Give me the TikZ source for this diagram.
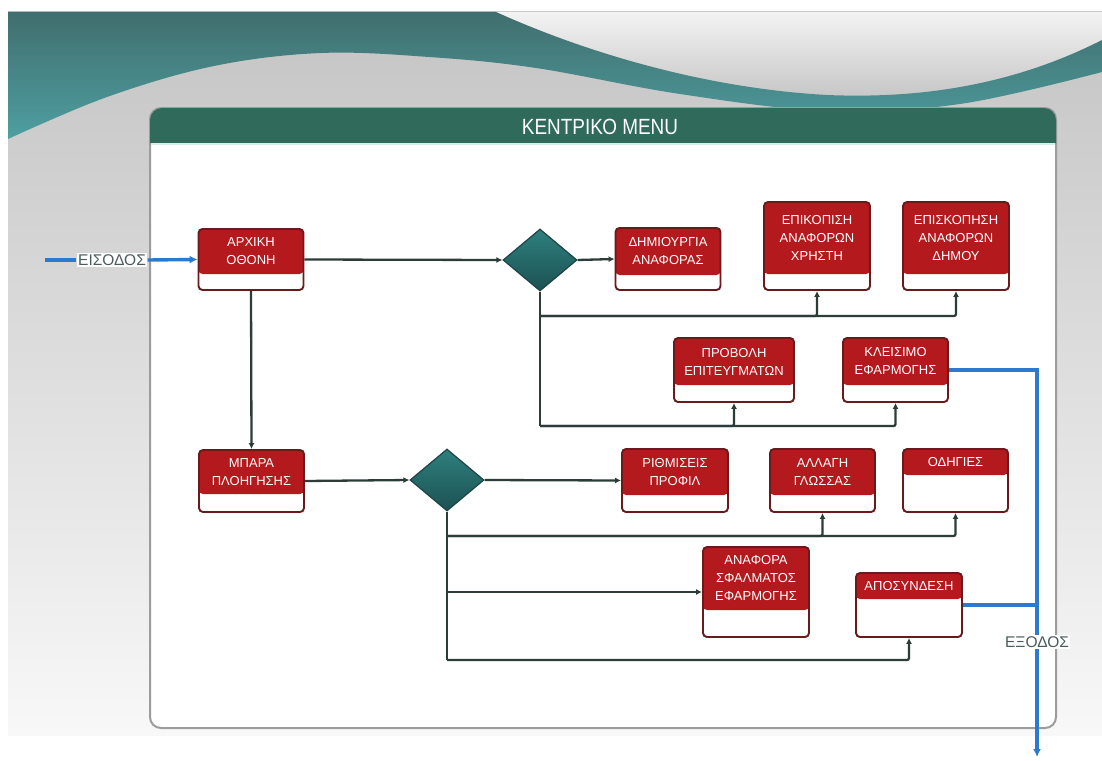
\documentclass[tikz,border=0pt]{standalone}
\usepackage{fontspec}
\setmainfont{Liberation Sans}
\newfontfamily\titlefont[FakeStretch=0.86]{Liberation Sans}
\usetikzlibrary{arrows.meta,shapes.geometric}

\definecolor{cardred}{HTML}{B3191D}
\definecolor{cardline}{HTML}{6A1A1A}
\definecolor{connc}{HTML}{2C3C38}
\definecolor{bluec}{HTML}{2A7BD0}
\definecolor{headc}{HTML}{2F6A5B}
\definecolor{panelline}{HTML}{9C9C9C}
\definecolor{gatetext}{HTML}{4A5B5C}
\definecolor{tealdark}{HTML}{416E6E}
\definecolor{teallight}{HTML}{4E9FA1}
\definecolor{diamtop}{HTML}{2E807E}
\definecolor{diambot}{HTML}{1D5153}
\definecolor{diamline}{HTML}{1E4445}
\definecolor{bgtop}{HTML}{C4C4C4}
\definecolor{bgbot}{HTML}{F8F8F8}
\definecolor{globetop}{HTML}{F3F3F3}
\definecolor{globebot}{HTML}{C6C6C6}

% a menu card: name, centre x, top y, width, height, height of the red title part, title
\newcommand\menucard[7]{%
  \node[card, minimum width=#4pt, minimum height=#5pt,
        path picture={\fill[cardred] ([yshift=2pt]path picture bounding box.north west)
                       rectangle ([yshift=-#6pt]path picture bounding box.north east);}]
        (#1) at (#2,#3+#5/2) {};
  \node[cardtext] (#1-t) at (#2,#3+#6/2) {#7};
}

\begin{document}
\begin{tikzpicture}[x=1pt,y=-1pt,
  card/.style={draw=cardline, line width=1.9pt, fill=white, rounded corners=4pt, inner sep=0pt},
  cardtext/.style={text=white, align=center, inner sep=0pt, font=\fontsize{13}{18}\selectfont},
  decision/.style={diamond, inner sep=0pt, minimum width=74pt, minimum height=62pt,
                   top color=diamtop, bottom color=diambot, draw=diamline, line width=1.2pt},
  conn/.style={draw=connc, line width=2.3pt, rounded corners=2pt},
  flow/.style={conn, -{Latex[length=6pt,width=6pt]}},
  exitline/.style={draw=bluec, line width=3.4pt},
  exitflow/.style={exitline, -{Latex[length=8pt,width=8pt]}},
  gatelabel/.style={fill=white, text=gatetext, inner sep=1.5pt, font=\fontsize{15.5}{18}\selectfont},
  titletext/.style={text=white, font=\titlefont\fontsize{22}{24}\selectfont}]

\useasboundingbox (0,0) rectangle (1102,760);

% backdrop
\fill[white] (0,0) rectangle (1102,760);
\shade[top color=bgtop, bottom color=bgbot] (8,12) rectangle (1102,735);
\shade[top color=globetop, bottom color=globebot]
  (496,12) -- (1102,12) -- (1102,40)
  .. controls (1000,92) and (900,98) .. (827,95)
  .. controls (700,88) and (580,50) .. (496,12) -- cycle;
\shade[top color=tealdark, bottom color=teallight]
  (8,12) -- (496,12)
  .. controls (580,50) and (700,88) .. (827,95)
  .. controls (900,98) and (1000,92) .. (1102,40)
  -- plot[smooth, tension=0.6] coordinates {(1102,72) (960,104) (827,111) (680,94) (536,68) (429,57) (321,53) (214,66) (107,97) (8,139)}
  -- cycle;

% menu panel
\fill[white, draw=panelline, line width=2pt, rounded corners=11pt] (150,108) rectangle (1056,728);
\fill[headc] (150,143) [rounded corners=12pt] -- (150,108) -- (1056,108) [sharp corners] -- (1056,143) -- cycle;
\draw[white!85!teal, line width=1pt] (151,144) -- (1055,144);
\node[titletext] (title) at (600,127) {ΚΕΝΤΡΙΚΟ MENU};

% decisions
\node[decision] (d1) at (540,260) {};
\node[decision] (d2) at (447,480) {};

% cards
\menucard{home}{251}{229}{105}{61}{45}{ΑΡΧΙΚΗ\\ΟΘΟΝΗ}
\menucard{nav}{251.5}{450}{105}{62}{44}{ΜΠΑΡΑ\\ΠΛΟΗΓΗΣΗΣ}
\menucard{create}{668}{228}{105}{62}{47}{ΔΗΜΙΟΥΡΓΙΑ\\ΑΝΑΦΟΡΑΣ}
\menucard{userrep}{817}{202}{106}{88}{72}{ΕΠΙΚΟΠΙΣΗ\\ΑΝΑΦΟΡΩΝ\\ΧΡΗΣΤΗ}
\menucard{munrep}{956}{202}{106}{88}{72}{ΕΠΙΣΚΟΠΗΣΗ\\ΑΝΑΦΟΡΩΝ\\ΔΗΜΟΥ}
\menucard{achieve}{734}{338}{120}{64}{47}{ΠΡΟΒΟΛΗ\\ΕΠΙΤΕΥΓΜΑΤΩΝ}
\menucard{close}{895.5}{338}{105}{64}{47}{ΚΛΕΙΣΙΜΟ\\ΕΦΑΡΜΟΓΗΣ}
\menucard{profile}{675}{449}{106}{63}{46}{ΡΙΘΜΙΣΕΙΣ\\ΠΡΟΦΙΛ}
\menucard{lang}{822.5}{449}{105}{63}{46}{ΑΛΛΑΓΗ\\ΓΛΩΣΣΑΣ}
\menucard{guide}{955.5}{449}{105}{63}{26}{ΟΔΗΓΙΕΣ}
\menucard{errrep}{756}{547}{106}{90}{63}{ΑΝΑΦΟΡΑ\\ΣΦΑΛΜΑΤΟΣ\\ΕΦΑΡΜΟΓΗΣ}
\menucard{logout}{909}{573}{106}{64}{26}{ΑΠΟΣΥΝΔΕΣΗ}

% connectors of the upper branch
\coordinate (j1) at (540,316);
\coordinate (j2) at (540,426);
\draw[flow] (home.east) -- (d1.west);
\draw[flow] (d1.east) -- (create.west);
\draw[conn] (d1.south) -- (j2);
\draw[flow] (j1) -| (userrep.south);
\draw[flow] (j1) -| (munrep.south);
\draw[flow] (j2) -| (achieve.south);
\draw[flow] (j2) -| (close.south);

% connectors of the lower branch
\coordinate (k1) at (447,536);
\coordinate (k3) at (447,660);
\draw[flow] (home.south) -- (nav.north);
\draw[flow] (nav.east) -- (d2.west);
\draw[flow] (d2.east) -- (profile.west);
\draw[conn] (d2.south) -- (k3);
\draw[flow] (k1) -| (lang.south);
\draw[flow] (k1) -| (guide.south);
\draw[flow] (errrep.west -| d2.south) -- (errrep.west);
\draw[flow] (k3) -| (logout.south);

% entry and exit
\coordinate (inx) at (45,260);
\coordinate (xout) at (1037,757);
\node[gatelabel] (entry) at (112,260) {ΕΙΣΟΔΟΣ};
\node[gatelabel] (exit) at (1037,642) {ΕΞΟΔΟΣ};
\draw[exitline] (inx) -- (entry.west);
\draw[exitflow] (entry.east) -- (home.west);
\draw[exitline] (close.east) -| (exit.north);
\draw[exitline] (logout.east) -- (logout.east -| exit.north);
\draw[exitflow] (exit.south) -- (xout);

\end{tikzpicture}
\end{document}
